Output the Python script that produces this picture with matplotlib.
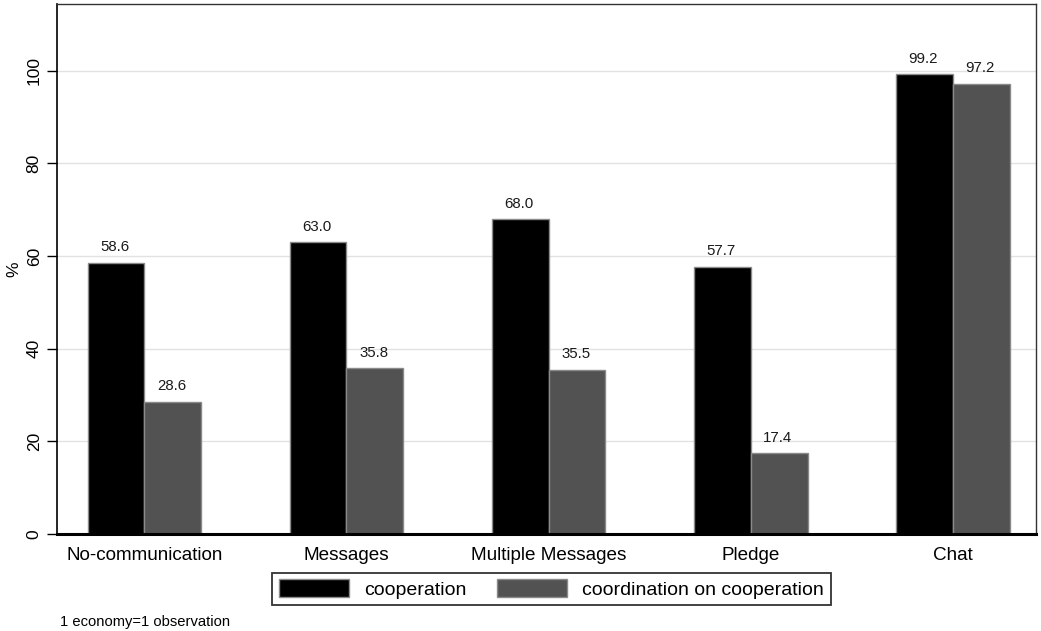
import numpy as np
import matplotlib
matplotlib.use("Agg")
import matplotlib.pyplot as plt
from matplotlib.patches import Patch

categories = ["No-communication", "Messages", "Multiple Messages", "Pledge", "Chat"]
cooperation = [58.6, 63.0, 68.0, 57.7, 99.2]
coordination = [28.6, 35.8, 35.5, 17.4, 97.2]
series_names = ["cooperation", "coordination on cooperation"]
y_ticks = [0, 20, 40, 60, 80, 100]
note = "1 economy=1 observation"

plt.rcParams['font.family'] = ['Liberation Sans', 'DejaVu Sans']

W, H = 1041, 631
fig = plt.figure(figsize=(W / 100, H / 100), dpi=100)
ax = fig.add_axes([57 / W, 1 - 534 / H, (1036 - 57) / W, (534 - 4) / H])

x = np.arange(len(categories))
w = 0.282
edge = '#8a8a8a'
b1 = ax.bar(x - w / 2, cooperation, w, color='black', edgecolor=edge, linewidth=1.0, zorder=3)
b2 = ax.bar(x + w / 2, coordination, w, color='#525252', edgecolor=edge, linewidth=1.0, zorder=3)

for bars, vals in ((b1, cooperation), (b2, coordination)):
    for r, v in zip(bars, vals):
        ax.annotate(f"{v:.1f}", (r.get_x() + r.get_width() / 2, v),
                    xytext=(-1, 6), textcoords='offset points',
                    ha='center', va='bottom', fontsize=10.8, color='#1a1a1a')

ax.set_xlim(-0.433, len(categories) - 1 + 0.413)
ax.set_ylim(0, 114.4)
ax.set_yticks(y_ticks)
ax.set_yticklabels([str(t) for t in y_ticks], rotation=90, va='center', fontsize=12.5)
ax.set_xticks(x)
ax.set_xticklabels(categories, fontsize=13.6)
ax.tick_params(axis='x', length=0, pad=9)
ax.tick_params(axis='y', length=7, width=1, pad=4, direction='out')
ax.set_ylabel('%', fontsize=12.5, labelpad=4)

ax.grid(axis='y', color='#e2e2e2', linewidth=1.0, zorder=0)
ax.set_axisbelow(True)

for s in ('top', 'right'):
    ax.spines[s].set_color('#333333')
    ax.spines[s].set_linewidth(1.0)
ax.spines['left'].set_color('black')
ax.spines['left'].set_linewidth(1.2)
ax.spines['bottom'].set_color('black')
ax.spines['bottom'].set_linewidth(2.2)
ax.spines['bottom'].set_zorder(4)

handles = [Patch(facecolor='black', edgecolor=edge, linewidth=1.0),
           Patch(facecolor='#525252', edgecolor=edge, linewidth=1.0)]
leg = fig.legend(handles, series_names, loc='center', bbox_to_anchor=(551.5 / W, 1 - 589 / H),
                 ncol=2, fontsize=14, frameon=True, fancybox=False,
                 handlelength=3.6, handleheight=1.0, handletextpad=0.75,
                 columnspacing=1.6, borderpad=0.35, borderaxespad=0)
leg.get_frame().set_edgecolor('black')
leg.get_frame().set_linewidth(1.3)

fig.text(60 / W, 1 - 622 / H, note, fontsize=10.6, ha='left', va='center')

fig.savefig('out.png', dpi=100)
